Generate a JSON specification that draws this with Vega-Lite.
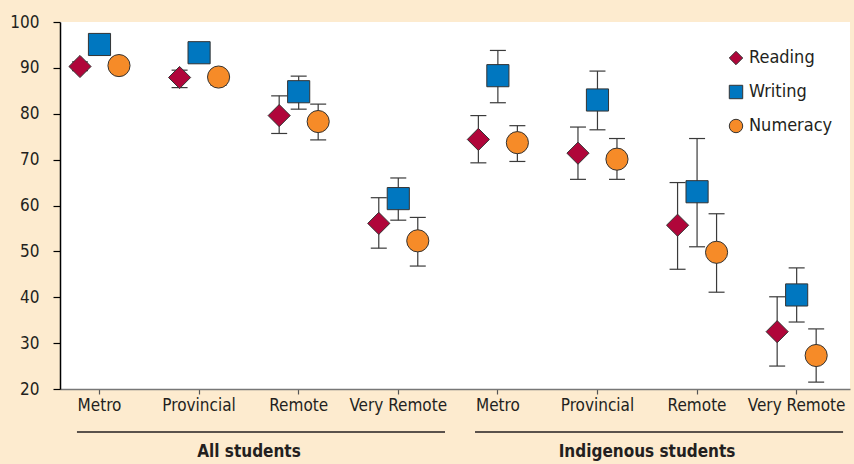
{
  "$schema": "https://vega.github.io/schema/vega-lite/v6.json",
  "width": 790,
  "height": 367,
  "autosize": {"type": "none"},
  "padding": {"left": 60, "top": 22, "right": 4, "bottom": 75},
  "background": "#fdebcf",
  "config": {
    "view": {"fill": "white", "stroke": null},
    "font": "DejaVu Sans Condensed, sans-serif",
    "axis": {"labelFont": "DejaVu Sans Condensed, sans-serif", "labelColor": "#231f20", "grid": false, "title": null},
    "legend": {"labelFont": "DejaVu Sans Condensed, sans-serif", "labelColor": "#231f20"}
  },
  "datasets": {
    "scores": [
      {"cat": "All students|Metro", "series": "Reading", "value": 90.3, "lo": 89.4, "hi": 91.3},
      {"cat": "All students|Metro", "series": "Writing", "value": 95.1, "lo": 94.3, "hi": 96.0},
      {"cat": "All students|Metro", "series": "Numeracy", "value": 90.5, "lo": 89.6, "hi": 91.4},
      {"cat": "All students|Provincial", "series": "Reading", "value": 87.9, "lo": 85.7, "hi": 89.5},
      {"cat": "All students|Provincial", "series": "Writing", "value": 93.3, "lo": 92.6, "hi": 94.1},
      {"cat": "All students|Provincial", "series": "Numeracy", "value": 88.0, "lo": 86.2, "hi": 89.6},
      {"cat": "All students|Remote", "series": "Reading", "value": 79.6, "lo": 75.7, "hi": 83.9},
      {"cat": "All students|Remote", "series": "Writing", "value": 84.8, "lo": 81.0, "hi": 88.2},
      {"cat": "All students|Remote", "series": "Numeracy", "value": 78.3, "lo": 74.3, "hi": 82.1},
      {"cat": "All students|Very Remote", "series": "Reading", "value": 56.1, "lo": 50.7, "hi": 61.7},
      {"cat": "All students|Very Remote", "series": "Writing", "value": 61.5, "lo": 56.8, "hi": 66.0},
      {"cat": "All students|Very Remote", "series": "Numeracy", "value": 52.3, "lo": 46.8, "hi": 57.4},
      {"cat": "Indigenous students|Metro", "series": "Reading", "value": 74.4, "lo": 69.3, "hi": 79.6},
      {"cat": "Indigenous students|Metro", "series": "Writing", "value": 88.3, "lo": 82.4, "hi": 93.8},
      {"cat": "Indigenous students|Metro", "series": "Numeracy", "value": 73.7, "lo": 69.6, "hi": 77.4},
      {"cat": "Indigenous students|Provincial", "series": "Reading", "value": 71.4, "lo": 65.7, "hi": 77.1},
      {"cat": "Indigenous students|Provincial", "series": "Writing", "value": 83.0, "lo": 76.5, "hi": 89.3},
      {"cat": "Indigenous students|Provincial", "series": "Numeracy", "value": 70.1, "lo": 65.7, "hi": 74.6},
      {"cat": "Indigenous students|Remote", "series": "Reading", "value": 55.7, "lo": 46.1, "hi": 65.0},
      {"cat": "Indigenous students|Remote", "series": "Writing", "value": 63.0, "lo": 51.0, "hi": 74.6},
      {"cat": "Indigenous students|Remote", "series": "Numeracy", "value": 49.8, "lo": 41.1, "hi": 58.2},
      {"cat": "Indigenous students|Very Remote", "series": "Reading", "value": 32.5, "lo": 25.0, "hi": 40.1},
      {"cat": "Indigenous students|Very Remote", "series": "Writing", "value": 40.5, "lo": 34.6, "hi": 46.4},
      {"cat": "Indigenous students|Very Remote", "series": "Numeracy", "value": 27.3, "lo": 21.5, "hi": 33.1}
    ],
    "groups": [
      {"group": "All students"},
      {"group": "Indigenous students"}
    ]
  },
  "layer": [
    {
      "data": {"name": "scores"},
      "encoding": {
        "x": {
          "field": "cat", "type": "nominal", "sort": null,
          "scale": {"type": "point", "padding": 0.466, "align": 0.42},
          "axis": {
            "labelExpr": "split(datum.value, '|')[1]",
            "labelAngle": 0, "labelFontSize": 17, "labelPadding": 3,
            "domainColor": "#777777", "domainWidth": 1.5,
            "tickColor": "#555555", "tickSize": 5, "tickWidth": 1.2
          }
        },
        "xOffset": {
          "field": "series", "type": "nominal",
          "scale": {"type": "point", "domain": ["Reading", "Writing", "Numeracy"], "range": [-19, 20], "padding": 0}
        }
      },
      "layer": [
        {
          "mark": {"type": "rule", "color": "#3a3a3a", "strokeWidth": 1.2},
          "encoding": {
            "y": {
              "field": "lo", "type": "quantitative",
              "scale": {"domain": [20, 100], "nice": false, "zero": false},
              "axis": {
                "title": null, "values": [20, 30, 40, 50, 60, 70, 80, 90, 100],
                "labelFontSize": 17, "labelPadding": 14,
                "domainColor": "#000000", "domainWidth": 1.5,
                "tickColor": "#000000", "tickSize": 7, "tickWidth": 1.2
              }
            },
            "y2": {"field": "hi"}
          }
        },
        {
          "mark": {"type": "tick", "color": "#3a3a3a", "size": 16, "thickness": 1.2, "opacity": 1},
          "encoding": {"y": {"field": "lo", "type": "quantitative"}}
        },
        {
          "mark": {"type": "tick", "color": "#3a3a3a", "size": 16, "thickness": 1.2, "opacity": 1},
          "encoding": {"y": {"field": "hi", "type": "quantitative"}}
        },
        {
          "mark": {"type": "point", "filled": true, "stroke": "#333333", "strokeWidth": 1, "opacity": 1, "size": 490},
          "encoding": {
            "y": {"field": "value", "type": "quantitative"},
            "color": {
              "field": "series", "type": "nominal",
              "scale": {"domain": ["Reading", "Writing", "Numeracy"], "range": ["#b0063a", "#0077c0", "#f68b28"]},
              "legend": {
                "title": null, "orient": "none", "legendX": 667, "legendY": 27,
                "labelFontSize": 18, "symbolSize": 180, "rowPadding": 16, "labelOffset": 4,
                "symbolStrokeColor": "#333333", "symbolStrokeWidth": 1, "padding": 0
              }
            },
            "shape": {
              "field": "series", "type": "nominal",
              "scale": {"domain": ["Reading", "Writing", "Numeracy"], "range": ["diamond", "square", "circle"]}
            }
          }
        }
      ]
    },
    {
      "data": {"name": "groups"},
      "mark": {"type": "rule", "color": "#231f20", "strokeWidth": 1.4},
      "encoding": {
        "x": {
          "field": "group", "type": "nominal", "bandPosition": 0,
          "scale": {"type": "band", "paddingInner": 0.0754, "paddingOuter": 0.03, "align": 0.71},
          "axis": {
            "orient": "bottom", "offset": 54, "domain": false, "ticks": false,
            "labelFontSize": 17, "labelFontWeight": "bold", "labelPadding": 0,
            "labelOffset": -12, "labelAngle": 0, "labelLimit": 0
          }
        },
        "x2": {"field": "group", "bandPosition": 1},
        "y": {"datum": 10.63, "type": "quantitative"}
      }
    }
  ],
  "resolve": {"scale": {"x": "independent"}, "axis": {"x": "independent"}}
}
